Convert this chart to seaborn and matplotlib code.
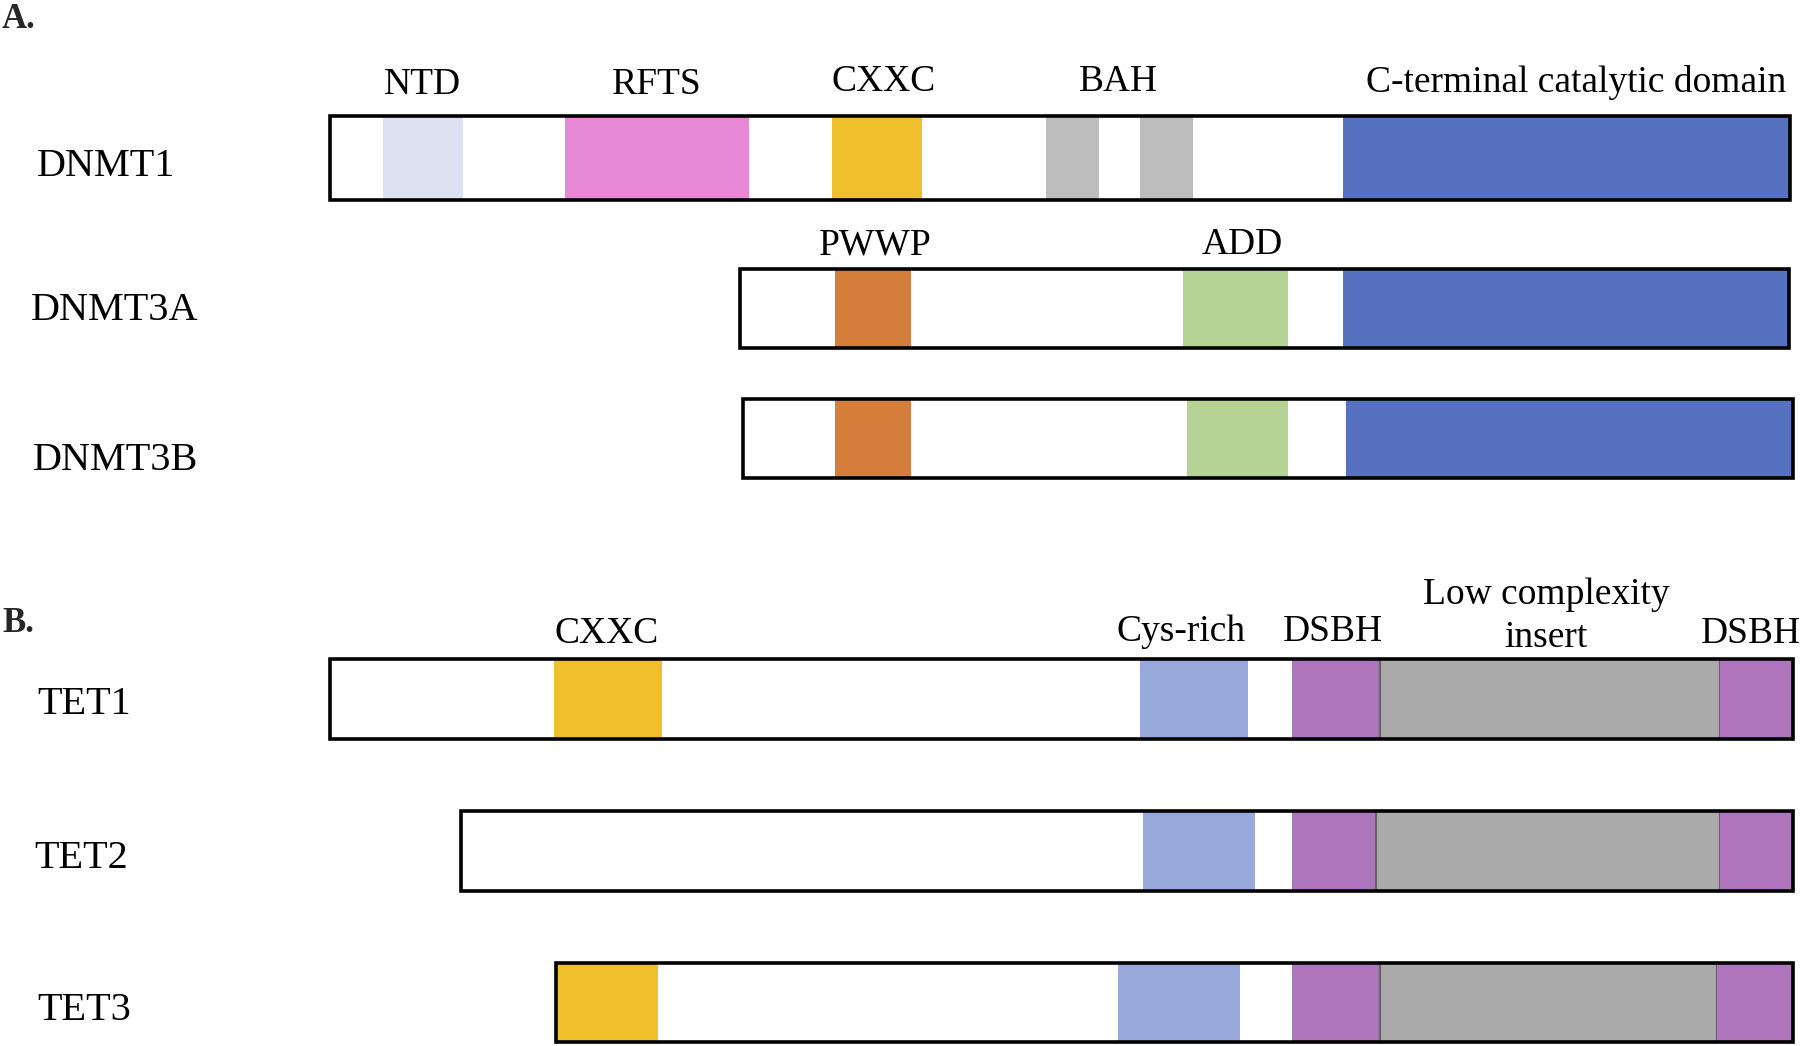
import numpy as np
import pandas as pd
import seaborn as sns
import matplotlib
matplotlib.use("Agg")
import matplotlib.pyplot as plt

# ---------------- data (positions along a common horizontal scale) ----------------
proteins = ["DNMT1", "DNMT3A", "DNMT3B", "TET1", "TET2", "TET3"]
protein_start = [330, 740, 743, 330, 461, 556]
protein_end = [1790, 1789, 1793, 1793, 1793, 1793]

domain_protein = ["DNMT1", "DNMT1", "DNMT1", "DNMT1", "DNMT1", "DNMT1",
                  "DNMT3A", "DNMT3A", "DNMT3A",
                  "DNMT3B", "DNMT3B", "DNMT3B",
                  "TET1", "TET1", "TET1", "TET1", "TET1",
                  "TET2", "TET2", "TET2", "TET2",
                  "TET3", "TET3", "TET3", "TET3", "TET3"]
domain_type = ["NTD", "RFTS", "CXXC", "BAH", "BAH", "Catalytic",
               "PWWP", "ADD", "Catalytic",
               "PWWP", "ADD", "Catalytic",
               "CXXC", "Cys-rich", "DSBH", "LowComplexity", "DSBH",
               "Cys-rich", "DSBH", "LowComplexity", "DSBH",
               "CXXC", "Cys-rich", "DSBH", "LowComplexity", "DSBH"]
domain_start = [383, 565, 832, 1046, 1140, 1343,
                835, 1183, 1343,
                835, 1187, 1346,
                554, 1140, 1292, 1380, 1720,
                1143, 1292, 1376, 1720,
                556, 1118, 1292, 1380, 1717]
domain_end = [463, 749, 922, 1099, 1193, 1790,
              911, 1288, 1789,
              911, 1288, 1793,
              662, 1248, 1380, 1720, 1793,
              1255, 1376, 1720, 1793,
              658, 1240, 1380, 1717, 1793]

domain_colors = {
    "NTD": "#DCE2F2",
    "RFTS": "#E688D4",
    "CXXC": "#F0BF2C",
    "BAH": "#BDBDBD",
    "Catalytic": "#5571C0",
    "PWWP": "#D57D3A",
    "ADD": "#B5D394",
    "Cys-rich": "#97AADB",
    "DSBH": "#B076BD",
    "LowComplexity": "#ABAAAB",
}

# domain annotations: text, x centre
label_text = ["NTD", "RFTS", "CXXC", "BAH", "C-terminal catalytic domain",
              "PWWP", "ADD",
              "CXXC", "Cys-rich", "DSBH", "Low complexity\ninsert", "DSBH"]
label_x = [422, 657, 884, 1118, 1576,
           875, 1242,
           607, 1181, 1333, 1546, 1751]

# ---------------- layout ----------------
row_y = {"DNMT1": 158, "DNMT3A": 308.5, "DNMT3B": 438.5,
         "TET1": 699, "TET2": 851, "TET3": 1002.5}
row_h = {"DNMT1": 84, "DNMT3A": 79, "DNMT3B": 79,
         "TET1": 80, "TET2": 80, "TET3": 79}
name_x = {"DNMT1": 37, "DNMT3A": 31, "DNMT3B": 33,
          "TET1": 37, "TET2": 34, "TET3": 37}
name_y = {"DNMT1": 167, "DNMT3A": 311, "DNMT3B": 460,
          "TET1": 705, "TET2": 858, "TET3": 1010}
label_y = [85, 85, 82, 82, 82,
           245, 245,
           634, 632, 632, 616, 634]

sns.set_theme(style="white")
plt.rcParams["font.family"] = ["Liberation Serif", "DejaVu Serif"]

dom = pd.DataFrame({"protein": domain_protein, "type": domain_type,
                    "start": domain_start, "end": domain_end})
prot = pd.DataFrame({"protein": proteins, "start": protein_start, "end": protein_end})

fig = plt.figure(figsize=(18, 10.46), dpi=100)
ax = fig.add_axes([0, 0, 1, 1])
ax.set_xlim(0, 1800)
ax.set_ylim(1046, 0)
ax.axis("off")

# domains
for _, r in dom.iterrows():
    y = row_y[r["protein"]]
    h = row_h[r["protein"]]
    is_lc = r["type"] == "LowComplexity"
    ax.barh(y, r["end"] - r["start"], left=r["start"], height=h,
            color=domain_colors[r["type"]],
            edgecolor="#666666" if is_lc else "none",
            linewidth=1.6 if is_lc else 0, zorder=2)

# outline boxes
for _, r in prot.iterrows():
    y = row_y[r["protein"]]
    h = row_h[r["protein"]]
    ax.barh(y, r["end"] - r["start"], left=r["start"], height=h,
            color="none", edgecolor="black", linewidth=2.6, zorder=3)
    ax.text(name_x[r["protein"]], name_y[r["protein"]], r["protein"],
            fontsize=29, ha="left", va="center", color="black")

for t, x, y in zip(label_text, label_x, label_y):
    ax.text(x, y, t, fontsize=27, ha="center", va="center",
            color="black", linespacing=1.32)

ax.text(2, 19, "A.", fontsize=25, fontweight="bold", ha="left", va="center")
ax.text(2, 623, "B.", fontsize=25, fontweight="bold", ha="left", va="center")

fig.savefig("out.png", dpi=100, facecolor="white")
